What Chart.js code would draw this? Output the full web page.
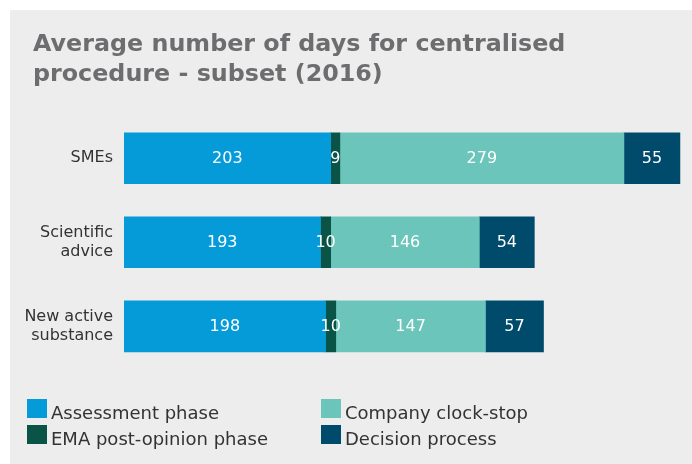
<!DOCTYPE html>
<html>
<head>
<meta charset="utf-8">
<script src="https://cdn.jsdelivr.net/npm/chart.js@4"></script>
<style>
    body { margin: 0; background: #ffffff; }
    #panel { position: absolute; left: 10px; top: 10px; width: 682px; height: 454px; background: #ededed; }
    #chart { display: block; }
    #legend {
        position: absolute; left: 17px; top: 389px;
        display: grid; grid-auto-flow: column;
        grid-template-rows: 19px 19px; row-gap: 7px;
        grid-template-columns: 294px 294px;
        font-family: 'DejaVu Sans', Verdana, sans-serif; font-size: 18px; color: #333333;
    }
    .item { position: relative; height: 19px; }
    .item .box { position: absolute; left: 0; top: 0; width: 20px; height: 19px; }
    .item .txt { position: absolute; left: 24px; top: 3.5px; line-height: 19px; white-space: nowrap; }
</style>
</head>
<body>
<div id="panel">
    <canvas id="chart" width="682" height="454"></canvas>
    <div id="legend"></div>
</div>
<script>
// chart values
const categories = ['SMEs', ['Scientific', 'advice'], ['New active', 'substance']];
const seriesNames = ['Assessment phase', 'EMA post-opinion phase', 'Company clock-stop', 'Decision process'];
const assessmentDays = [203, 193, 198];
const postOpinionDays = [9, 10, 10];
const clockStopDays = [279, 146, 147];
const decisionDays = [55, 54, 57];
const seriesColors = ['#059bd9', '#0a5347', '#6cc5bb', '#004b6b'];

const fontFamily = "'DejaVu Sans', Verdana, sans-serif";

// draws the white numbers in the middle of each segment
const segmentLabels = {
    id: 'segmentLabels',
    afterDatasetsDraw(chart) {
        const ctx = chart.ctx;
        ctx.save();
        ctx.font = '16px ' + fontFamily;
        ctx.fillStyle = '#ffffff';
        ctx.textAlign = 'center';
        ctx.textBaseline = 'middle';
        chart.data.datasets.forEach((ds, i) => {
            const meta = chart.getDatasetMeta(i);
            meta.data.forEach((bar, j) => {
                const cx = (bar.x + bar.base) / 2;
                ctx.fillText(String(ds.data[j]), cx, bar.y + 1);
            });
        });
        ctx.restore();
    }
};

// the long category labels stick out left of the axis box, so widen its clip area
const unclipLabels = {
    id: 'unclipLabels',
    afterLayout(chart) {
        chart.scales.y.left = 0;
    }
};

const allSeries = [assessmentDays, postOpinionDays, clockStopDays, decisionDays];

const chart = new Chart(document.getElementById('chart'), {
    type: 'bar',
    data: {
        labels: categories,
        datasets: allSeries.map((values, i) => ({
            label: seriesNames[i],
            data: values,
            backgroundColor: seriesColors[i],
            borderWidth: 0,
            barThickness: 51
        }))
    },
    options: {
        indexAxis: 'y',
        responsive: false,
        animation: false,
        layout: {
            padding: { top: 0, left: 23, right: 8, bottom: 95.7 }
        },
        scales: {
            x: {
                stacked: true,
                display: false,
                min: 0,
                max: 550
            },
            y: {
                stacked: true,
                grid: { display: false, drawTicks: false },
                border: { display: false },
                ticks: {
                    padding: 11,
                    color: '#333333',
                    font: { family: fontFamily, size: 16, lineHeight: 1.15 }
                },
                afterFit(scale) {
                    scale.width = 91;
                }
            }
        },
        plugins: {
            legend: { display: false },
            tooltip: { enabled: false },
            title: {
                display: true,
                text: ['Average number of days for centralised', 'procedure - subset (2016)'],
                align: 'start',
                color: '#6d6d70',
                font: { family: fontFamily, size: 23.8, weight: 'bold', lineHeight: 1.26 },
                padding: { top: 20, bottom: 26.3 }
            }
        }
    },
    plugins: [segmentLabels, unclipLabels]
});

// html legend in two columns, built from the datasets
const legendEl = document.getElementById('legend');
chart.data.datasets.forEach(ds => {
    const item = document.createElement('div');
    item.className = 'item';
    const box = document.createElement('span');
    box.className = 'box';
    box.style.background = ds.backgroundColor;
    const txt = document.createElement('span');
    txt.className = 'txt';
    txt.textContent = ds.label;
    item.appendChild(box);
    item.appendChild(txt);
    legendEl.appendChild(item);
});
</script>
</body>
</html>
